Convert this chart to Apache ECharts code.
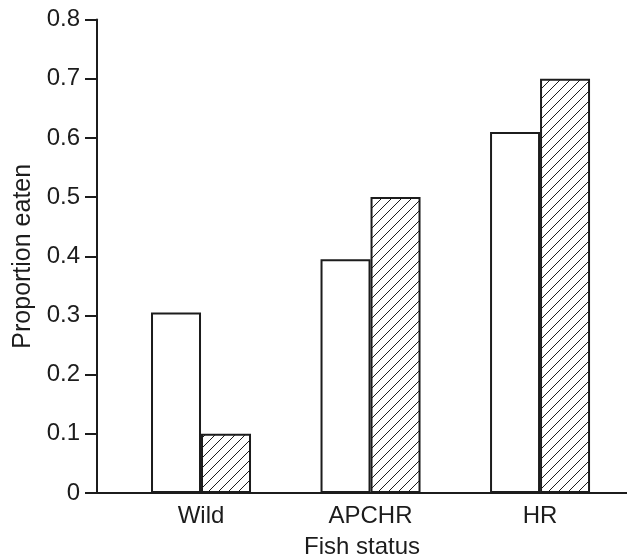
<!DOCTYPE html>
<html><head><meta charset="utf-8">
<script src="https://cdn.jsdelivr.net/npm/echarts@6/dist/echarts.min.js"></script>
<style>html,body{margin:0;padding:0;background:#fff}#c{width:627px;height:559px}</style>
</head><body><div id="c"></div>
<script>
const categories = ['Wild', 'APCHR', 'HR'];
const openValues = [0.305, 0.395, 0.61];
const hatchedValues = [0.1, 0.5, 0.7];
const yTickLabels = ['0', '0.1', '0.2', '0.3', '0.4', '0.5', '0.6', '0.7', '0.8'];

const ink = '#1c1c1c';
const font = "'Liberation Sans', Arial, sans-serif";

function hatch() {
  const s = 10;
  const c = document.createElement('canvas');
  c.width = s; c.height = s;
  const g = c.getContext('2d');
  g.fillStyle = '#fff'; g.fillRect(0, 0, s, s);
  g.strokeStyle = ink; g.lineWidth = 1;
  g.beginPath();
  g.moveTo(-1, s + 1); g.lineTo(s + 1, -1);
  g.moveTo(-1, 1); g.lineTo(1, -1);
  g.moveTo(s - 1, s + 1); g.lineTo(s + 1, s - 1);
  g.stroke();
  return c;
}

const chart = echarts.init(document.getElementById('c'), null, {renderer: 'canvas'});
chart.setOption({
  animation: false,
  backgroundColor: '#fff',
  grid: {left: 97, right: 0, top: 19.5, bottom: 66, containLabel: false, outerBoundsMode: 'none'},
  xAxis: {
    type: 'value',
    min: -0.6136, max: 2.513,
    name: 'Fish status', nameLocation: 'middle', nameGap: 42,
    nameTextStyle: {color: ink, fontSize: 24, fontFamily: font},
    axisLine: {show: true, onZero: false, lineStyle: {color: ink, width: 2}},
    axisTick: {show: false},
    splitLine: {show: false},
    axisLabel: {
      customValues: [0, 1, 2],
      formatter: v => categories[Math.round(v)] || '',
      color: ink, fontSize: 24, fontFamily: font, margin: 11
    }
  },
  yAxis: {
    type: 'value', min: 0, max: 0.8, interval: 0.1,
    name: 'Proportion eaten', nameLocation: 'middle', nameGap: 58,
    nameTextStyle: {color: ink, fontSize: 25, fontFamily: font},
    axisLine: {show: true, onZero: false, lineStyle: {color: ink, width: 2}},
    axisTick: {show: true, inside: false, length: 12, lineStyle: {color: ink, width: 2}},
    splitLine: {show: false},
    axisLabel: {
      formatter: v => yTickLabels[Math.round(v * 10)],
      color: ink, fontSize: 24, fontFamily: font, margin: 17
    }
  },
  series: [
    {
      type: 'bar', barWidth: 50, barGap: '0%',
      data: openValues.map((v, i) => [i, v]),
      itemStyle: {color: '#fff', borderColor: ink, borderWidth: 2}
    },
    {
      type: 'bar', barWidth: 50, barGap: '0%',
      data: hatchedValues.map((v, i) => [i, v]),
      itemStyle: {color: {image: hatch(), repeat: 'repeat'}, borderColor: ink, borderWidth: 2}
    }
  ]
});
</script></body></html>
